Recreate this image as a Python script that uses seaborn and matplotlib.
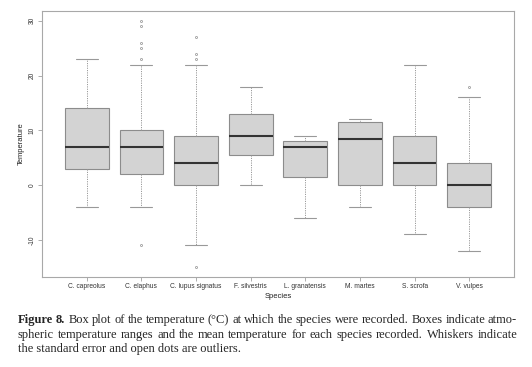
import matplotlib
matplotlib.use("Agg")
import matplotlib.pyplot as plt
import seaborn as sns
import pandas as pd

species = ["C. capreolus", "C. elaphus", "C. lupus signatus", "F. silvestris",
           "L. granatensis", "M. martes", "S. scrofa", "V. vulpes"]
whisk_lo = [-4, -4, -11, 0, -6, -4, -9, -12]
q1 = [3, 2, 0, 5.5, 1.5, 0, 0, -4]
median = [7, 7, 4, 9, 7, 8.5, 4, 0]
q3 = [14, 10, 9, 13, 8, 11.5, 9, 4]
whisk_hi = [23, 22, 22, 18, 9, 12, 22, 16]
outliers_low = [[], [-11], [-15], [], [], [], [], []]
outliers_high = [[], [23, 25, 26, 29, 30], [23, 24, 27], [], [], [], [], [18]]

y_ticks = [-10, 0, 10, 20, 30]

caption_l1 = ["Figure", "8.", "Box", "plot", "of", "the", "temperature", "(°C)", "at", "which",
              "the", "species", "were", "recorded.", "Boxes", "indicate", "atmo-"]
caption_l2 = ["spheric", "temperature", "ranges", "and", "the", "mean", "temperature", "for",
              "each", "species", "recorded.", "Whiskers", "indicate"]
caption_l3 = "the standard error and open dots are outliers."


def build_sample(lo, a, m, b, hi, olo, ohi):
    """Sample whose quartiles / whiskers / fliers reproduce the summary."""
    k = max(len(olo), len(ohi)) + 1
    vals = sorted(olo) + [lo] + [a] * (k - 1 - len(olo))
    vals += [a] + [m] * (k - 1) + [m] + [b] * (k - 1) + [b]
    vals += [b] * (k - 1 - len(ohi)) + [hi] + sorted(ohi)
    return vals


rows = []
for i, sp in enumerate(species):
    for v in build_sample(whisk_lo[i], q1[i], median[i], q3[i], whisk_hi[i],
                          outliers_low[i], outliers_high[i]):
        rows.append({"Species": sp, "Temperature": v})
df = pd.DataFrame(rows)

sns.set_style("white")
plt.rcParams["font.family"] = ["Liberation Sans", "DejaVu Sans"]

W, H = 532, 367
fig = plt.figure(figsize=(W / 100, H / 100), dpi=100)
ax = fig.add_axes([42 / W, 1 - 277 / H, (514 - 42) / W, (277 - 11) / H])

edge = "#8c8c8c"
sns.boxplot(data=df, x="Species", y="Temperature", order=species, ax=ax,
            color="#d3d3d3", saturation=1, width=0.8, whis=1.5,
            linecolor=edge, linewidth=0.8, fliersize=1.5,
            medianprops=dict(color="#333333", linewidth=1.5),
            whiskerprops=dict(color="#999999", linestyle=(0, (1.2, 1.2)), linewidth=0.7),
            capprops=dict(color="#999999", linewidth=0.8),
            flierprops=dict(marker="o", markerfacecolor="none",
                            markeredgecolor="#a0a0a0", markeredgewidth=0.6))

ax.set_xlim(-0.82, 7.82)
ax.set_ylim(-16.8, 31.8)
ax.set_yticks(y_ticks)
ax.set_yticklabels([str(t) for t in y_ticks], rotation=90, va="center")
for s in ax.spines.values():
    s.set_visible(True)
    s.set_color("#a8a8a8")
    s.set_linewidth(0.8)
ax.tick_params(axis="both", direction="out", length=3, width=0.6, color="#a0a0a0",
               labelsize=4.8, labelcolor="#333333", pad=1.5, left=True, bottom=True)
ax.set_xlabel("Species", fontsize=5.5, color="#222222", labelpad=2)
ax.set_ylabel("Temperature", fontsize=5.5, color="#222222", labelpad=3)

# caption
renderer = fig.canvas.get_renderer()
serif = ["Liberation Serif", "DejaVu Serif"]
x_left, x_right = 18, 517
probe = fig.text(0, 0, " ".join(caption_l2), fontsize=10, family=serif)
w2 = probe.get_window_extent(renderer).width
probe.remove()
fs = 10 * 493 / w2

fig.text(x_left / W, 1 - 352 / H, caption_l3, fontsize=fs, family=serif, va="baseline")


def justify(words, baseline, bold_n=0):
    texts = []
    for j, w in enumerate(words):
        t = fig.text(0, 1 - baseline / H, w, fontsize=fs, family=serif, va="baseline",
                     fontweight="bold" if j < bold_n else "normal")
        texts.append(t)
    widths = [t.get_window_extent(renderer).width for t in texts]
    gap = (x_right - x_left - sum(widths)) / (len(words) - 1)
    x = x_left
    for t, wd in zip(texts, widths):
        t.set_x(x / W)
        x += wd + gap


justify(caption_l1, 323, bold_n=2)
justify(caption_l2, 338)

fig.savefig("out.png", dpi=100)
